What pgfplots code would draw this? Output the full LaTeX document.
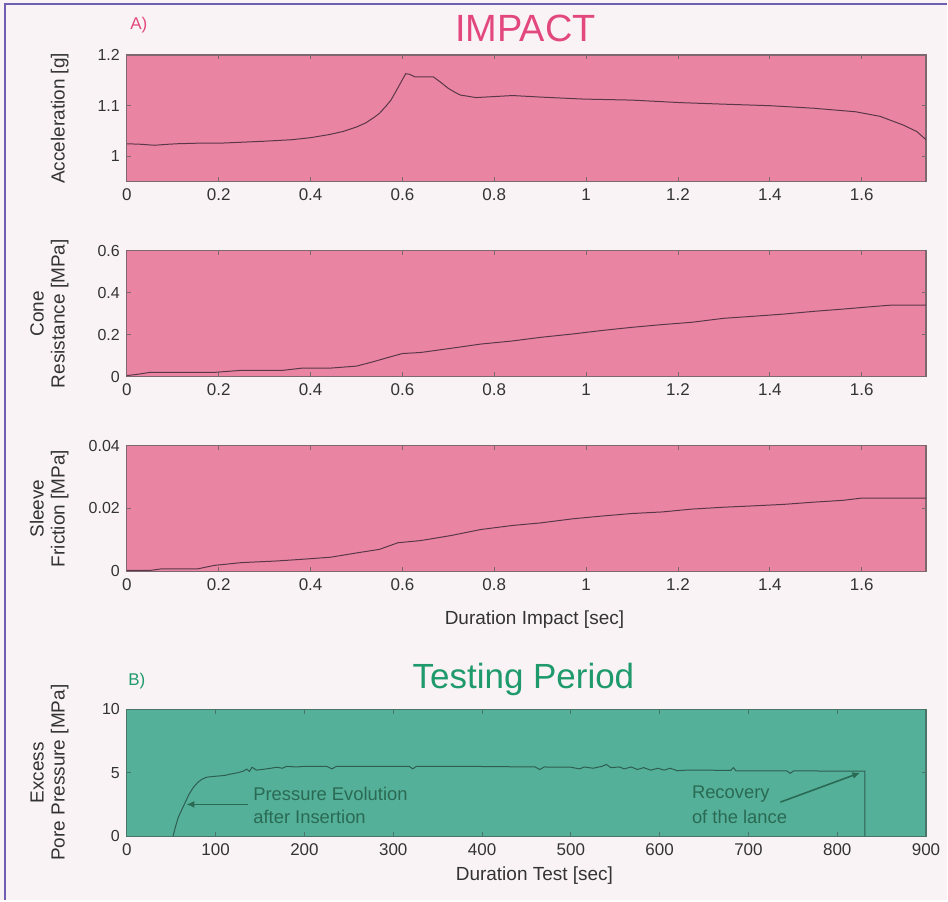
\documentclass[border=0pt]{standalone}
\usepackage{fontspec}
\setmainfont{Liberation Sans}
\usepackage{pgfplots}
\pgfplotsset{compat=1.18}
\usetikzlibrary{arrows.meta}
\definecolor{bgc}{HTML}{FAF3F5}
\definecolor{borderc}{HTML}{6E5FB0}
\definecolor{pinkfill}{HTML}{EA84A3}
\definecolor{tealfill}{HTML}{55B09A}
\definecolor{framepink}{HTML}{7D6870}
\definecolor{frameteal}{HTML}{4A7568}
\definecolor{linepink}{HTML}{5A3848}
\definecolor{lineteal}{HTML}{2E5E50}
\definecolor{impactc}{HTML}{E2487E}
\definecolor{testc}{HTML}{1E9A6C}
\definecolor{annc}{HTML}{2A6A52}
\definecolor{tickc}{HTML}{333333}
\pgfplotsset{
  base/.style={
    scale only axis, width=400pt,
    axis line style={line width=0.6pt},
    major tick length=2.2pt,
    tick style={line width=0.5pt},
    tick label style={text=tickc},
    xticklabel style={font=\fontsize{8.5}{10}\selectfont},
    yticklabel style={font=\fontsize{8}{9.5}\selectfont},
    /pgf/number format/assume math mode=true,
    scaled ticks=false,
    ylabel style={font=\fontsize{9.5}{10.5}\selectfont, align=center, text=tickc,
      at={(axis description cs:-0.064,0.5)}, anchor=south},
  },
  pinkax/.style={base, xmin=0, xmax=1.74,
    axis background/.style={fill=pinkfill},
    axis line style={color=framepink},
    tick style={color=framepink},
    xtick={0,0.2,0.4,0.6,0.8,1,1.2,1.4,1.6},
  },
}
\begin{document}
\begin{tikzpicture}
\fill[bgc] (0,0) rectangle (474pt,450.5pt);
\draw[borderc, line width=1pt] (2.5pt,0) -- (2.5pt,448.5pt) -- (474pt,448.5pt);
% titles
\node[text=impactc, font=\fontsize{8.5}{10}\selectfont] at (69.5pt,438pt) {A)};
\node[text=impactc, font=\fontsize{19}{22}\selectfont] at (263pt,436.5pt) {IMPACT};
\node[text=testc, font=\fontsize{8.5}{10}\selectfont] at (68.5pt,109.5pt) {B)};
\node[text=testc, font=\fontsize{17.5}{20}\selectfont] at (262pt,110.5pt) {Testing Period};

% Axis 1
\begin{axis}[pinkax, at={(63.5pt,359.5pt)}, anchor=south west, height=63.5pt,
  ymin=0.95, ymax=1.2, ytick={1,1.1,1.2}, ylabel={Acceleration [g]}]
\addplot[linepink, line width=0.5pt] coordinates {
(0,1.025) (0.03,1.024) (0.06,1.022) (0.09,1.024) (0.11,1.025) (0.15,1.026) (0.2,1.026)
(0.25,1.028) (0.3,1.03) (0.36,1.033) (0.4,1.037) (0.44,1.043) (0.47,1.049) (0.5,1.058)
(0.52,1.066) (0.54,1.078) (0.55,1.085) (0.565,1.1) (0.575,1.111) (0.59,1.135)
(0.607,1.163) (0.615,1.162) (0.627,1.157) (0.645,1.157) (0.667,1.157) (0.685,1.145)
(0.70,1.134) (0.715,1.126) (0.726,1.121) (0.76,1.116) (0.80,1.118) (0.84,1.12)
(0.90,1.117) (0.995,1.113) (1.10,1.111) (1.206,1.106) (1.30,1.103) (1.40,1.1)
(1.495,1.095) (1.587,1.088) (1.64,1.079) (1.69,1.062) (1.72,1.049) (1.74,1.033)};
\end{axis}

% Axis 2
\begin{axis}[pinkax, at={(63.5pt,262pt)}, anchor=south west, height=63pt,
  ymin=0, ymax=0.6, ytick={0,0.2,0.4,0.6}, ylabel={Cone\\Resistance [MPa]}]
\addplot[linepink, line width=0.5pt] coordinates {
(0,0.005) (0.02,0.01) (0.05,0.02) (0.12,0.02) (0.19,0.02) (0.25,0.03) (0.34,0.03)
(0.38,0.04) (0.44,0.04) (0.5,0.05) (0.535,0.07) (0.575,0.095) (0.6,0.11) (0.64,0.115)
(0.706,0.135) (0.77,0.155) (0.84,0.17) (0.9,0.187) (0.97,0.203) (1.035,0.22)
(1.10,0.235) (1.166,0.248) (1.23,0.259) (1.30,0.278) (1.36,0.287) (1.43,0.298)
(1.495,0.311) (1.56,0.322) (1.63,0.335) (1.666,0.341) (1.74,0.341)};
\end{axis}

% Axis 3
\begin{axis}[pinkax, at={(63.5pt,164.5pt)}, anchor=south west, height=63pt,
  ymin=0, ymax=0.04, ytick={0,0.02,0.04},
  yticklabel style={/pgf/number format/.cd, fixed, precision=2},
  ylabel={Sleeve\\Friction [MPa]},
  xlabel={Duration Impact [sec]},
  xlabel style={font=\fontsize{9.5}{11}\selectfont, text=tickc,
    at={(axis description cs:0.51,-0.38)}, anchor=center}]
\addplot[linepink, line width=0.5pt] coordinates {
(0,0.0003) (0.05,0.0003) (0.075,0.0008) (0.154,0.0008) (0.19,0.0019) (0.25,0.0028)
(0.325,0.0033) (0.377,0.0038) (0.443,0.0045) (0.51,0.0061) (0.55,0.007) (0.59,0.0091)
(0.64,0.0098) (0.706,0.0114) (0.77,0.0133) (0.84,0.0146) (0.9,0.0154) (0.97,0.0167)
(1.035,0.0176) (1.1,0.0184) (1.166,0.0189) (1.23,0.0198) (1.3,0.0204) (1.36,0.0208)
(1.43,0.0213) (1.495,0.022) (1.56,0.0226) (1.6,0.0233) (1.74,0.0233)};
\end{axis}

% Axis 4
\begin{axis}[base, at={(63.5pt,32pt)}, anchor=south west, height=63.5pt,
  xmin=0, xmax=900, ymin=0, ymax=10,
  xtick={0,100,...,900}, ytick={0,5,10},
  axis background/.style={fill=tealfill},
  axis line style={color=frameteal},
  tick style={color=frameteal},
  ylabel={Excess\\Pore Pressure [MPa]},
  xlabel={Duration Test [sec]},
  xlabel style={font=\fontsize{9.5}{11}\selectfont, text=tickc,
    at={(axis description cs:0.51,-0.315)}, anchor=center}]
\addplot[lineteal, line width=0.5pt] coordinates {
(52,0) (55,0.8) (58,1.5) (62,2.1) (66,2.7) (70,3.3) (75,3.85) (80,4.25) (85,4.5)
(90,4.65) (100,4.72) (110,4.78) (116,4.88) (125,5.0) (131,5.12) (135,5.28) (138,5.1)
(141,5.43) (146,5.2) (155,5.28) (162,5.35) (169,5.43) (175,5.35) (180,5.5) (191,5.45)
(200,5.5) (225,5.5) (231,5.3) (236,5.5) (255,5.5) (300,5.5) (318,5.5) (322,5.3)
(326,5.5) (380,5.5) (460,5.45) (465,5.25) (470,5.45) (500,5.43) (510,5.3) (515,5.45)
(525,5.35) (535,5.5) (540,5.65) (545,5.4) (555,5.45) (560,5.3) (568,5.45) (575,5.25)
(582,5.4) (590,5.2) (598,5.35) (605,5.2) (612,5.35) (620,5.15) (630,5.2) (650,5.2)
(680,5.18) (683,5.4) (686,5.15) (700,5.15) (743,5.15) (747,4.95) (751,5.15) (800,5.12)
(831,5.12) (831,0)};
\node[anchor=west, text=annc, font=\fontsize{9.2}{11}\selectfont, inner sep=0pt] at (axis cs:142,3.3) {Pressure Evolution};
\node[anchor=west, text=annc, font=\fontsize{9.2}{11}\selectfont, inner sep=0pt] at (axis cs:142,1.5) {after Insertion};
\node[anchor=west, text=annc, font=\fontsize{9.2}{11}\selectfont, inner sep=0pt] at (axis cs:636,3.3) {Recovery};
\node[anchor=west, text=annc, font=\fontsize{9.2}{11}\selectfont, inner sep=0pt] at (axis cs:636,1.5) {of the lance};
\draw[annc, line width=0.8pt, -{Latex[length=4pt,width=3.5pt]}] (axis cs:136,2.5) -- (axis cs:67,2.5);
\draw[annc, line width=0.8pt, -{Latex[length=4pt,width=3.5pt]}] (axis cs:736,2.68) -- (axis cs:826,5.0);
\end{axis}
\end{tikzpicture}
\end{document}
